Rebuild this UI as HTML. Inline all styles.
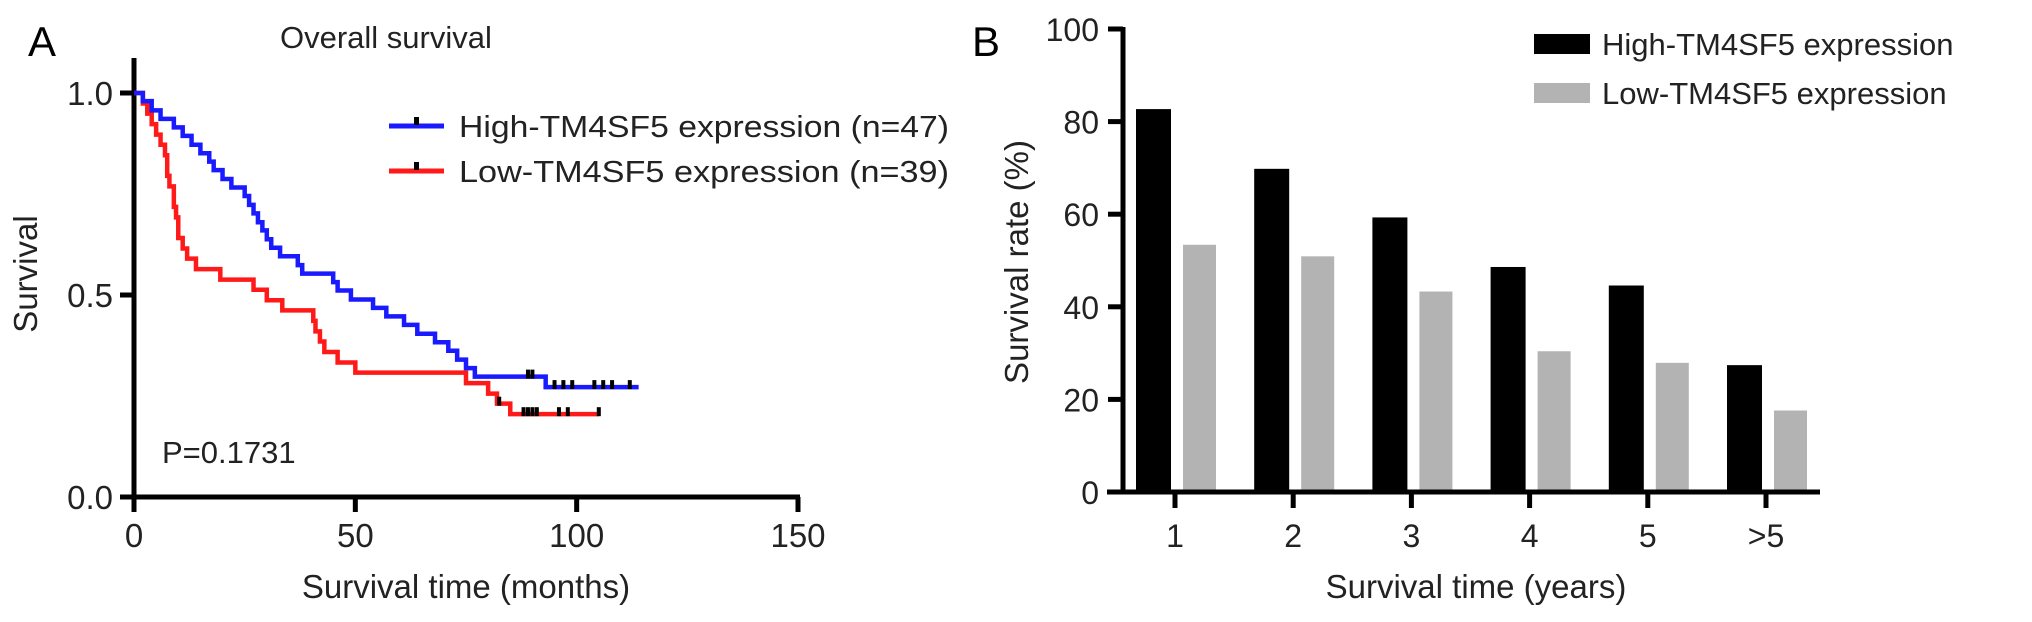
<!DOCTYPE html>
<html><head><meta charset="utf-8"><style>
html,body{margin:0;padding:0;background:#fff;}
svg{display:block;font-family:"Liberation Sans",Arial,sans-serif;}
</style></head><body>
<svg id="fig" width="2032" height="622" viewBox="0 0 2032 622" xmlns="http://www.w3.org/2000/svg">
<g id="panelA"></g>
<g id="panelB"></g>
</svg>
<script>
// Panel A data
const highTimes = [0,2,4,6,9,11,13,15,17,18,20,22,25,26,27,28,29,30,31,33,37,38,45,46,49,54,57,61,64,68,71,73,75,77,93,114];
const highSurv  = [1,0.98,0.957,0.936,0.915,0.894,0.872,0.851,0.83,0.809,0.787,0.766,0.745,0.723,0.702,0.68,0.66,0.638,0.617,0.596,0.574,0.553,0.532,0.511,0.489,0.468,0.447,0.426,0.404,0.383,0.362,0.34,0.319,0.298,0.272,0.272];
const highCensor = [89,90,95,97,99,104,106,108,112];
const lowTimes = [0,2,3,4,5,6,7,7.5,8,9,9.5,10,11,12,14,19.5,27,30,33.5,40.5,41,42,43,46,50,75,80,82,85,105];
const lowSurv  = [1,0.974,0.949,0.923,0.897,0.872,0.846,0.795,0.769,0.718,0.692,0.641,0.615,0.59,0.564,0.538,0.513,0.487,0.462,0.436,0.41,0.385,0.359,0.333,0.308,0.282,0.256,0.231,0.205,0.205];
const lowCensor = [82.5,88,89,90,91,96,98,105];
const xTicksA = [0,50,100,150];
const yTicksA = [0.0,0.5,1.0];
// Panel B data
const categories = ["1","2","3","4","5",">5"];
const highVals = [82.7,69.8,59.3,48.6,44.6,27.4];
const lowVals  = [53.4,50.9,43.3,30.4,27.9,17.6];
const yTicksB = [0,20,40,60,80,100];

const NS="http://www.w3.org/2000/svg";
function mk(parent,tag,attrs,text){const e=document.createElementNS(NS,tag);for(const k in attrs)e.setAttribute(k,attrs[k]);if(text!==undefined)e.textContent=text;parent.appendChild(e);return e;}

// ---- Panel A ----
const A=document.getElementById('panelA');
const ax=m=>134+m*(798-134)/150;
const ay=s=>497-s*(497-93);
let t;
t=mk(A,'text',{x:28,y:56,'font-size':42});t.textContent='A';

t=mk(A,'text',{x:280,y:48,'font-size':31,fill:'#222'},'Overall survival');

let l=mk(A,'line',{x1:134,y1:58,x2:134,y2:499,stroke:'#000','stroke-width':5});

l=mk(A,'line',{x1:120,y1:497,x2:800,y2:497,stroke:'#000','stroke-width':5});

yTicksA.forEach(v=>{
  const tk=mk(A,'line',{x1:120,y1:ay(v),x2:134,y2:ay(v),stroke:'#000','stroke-width':5});
  
  const tl=mk(A,'text',{x:113,y:ay(v)+12,'font-size':33,'text-anchor':'end',fill:'#222'},v.toFixed(1));
  
});
xTicksA.forEach(v=>{
  const tk=mk(A,'line',{x1:ax(v),y1:497,x2:ax(v),y2:512,stroke:'#000','stroke-width':5});
  
  const tl=mk(A,'text',{x:ax(v),y:547,'font-size':33,'text-anchor':'middle',fill:'#222'},String(v));
  
});
t=mk(A,'text',{x:466,y:598,'font-size':33,'text-anchor':'middle',fill:'#222'},'Survival time (months)');

t=mk(A,'text',{x:0,y:0,'font-size':33,'text-anchor':'middle',fill:'#222',transform:'translate(37,274) rotate(-90)'},'Survival');

t=mk(A,'text',{x:162,y:463,'font-size':31,fill:'#222'},'P=0.1731');


function stepPath(ts,ss){let d=`M${ax(ts[0])},${ay(ss[0])}`;for(let i=1;i<ts.length;i++){d+=` H${ax(ts[i])} V${ay(ss[i])}`;}return d;}
function survAt(ts,ss,m){let s=ss[0];for(let i=0;i<ts.length;i++){if(ts[i]<=m)s=ss[i];}return s;}
let p=mk(A,'path',{d:stepPath(lowTimes,lowSurv),fill:'none',stroke:'#ff1a1a','stroke-width':4.5});

p=mk(A,'path',{d:stepPath(highTimes,highSurv),fill:'none',stroke:'#1a1aff','stroke-width':4.5});

highCensor.forEach(m=>{const y=ay(survAt(highTimes,highSurv,m));
  const c=mk(A,'rect',{x:ax(m)-2,y:y-7,width:4,height:9,fill:'#000'});
  });
lowCensor.forEach(m=>{const y=ay(survAt(lowTimes,lowSurv,m));
  const c=mk(A,'rect',{x:ax(m)-2,y:y-7,width:4,height:9,fill:'#000'});
  });
// legend A
const legA=[{y:126,c:'#1a1aff',t:'High-TM4SF5 expression  (n=47)',n:'legend-high'},{y:171,c:'#ff1a1a',t:'Low-TM4SF5 expression  (n=39)',n:'legend-low'}];
legA.forEach(e=>{
  const g=mk(A,'g',{});
  mk(g,'line',{x1:389,y1:e.y,x2:444,y2:e.y,stroke:e.c,'stroke-width':5});
  mk(g,'rect',{x:414,y:e.y-9,width:5,height:8,fill:'#000'});
  mk(g,'text',{x:459,y:e.y+11,'font-size':31,fill:'#222',textLength:490,lengthAdjust:'spacingAndGlyphs'},e.t);
});

// ---- Panel B ----
const B=document.getElementById('panelB');
const by=v=>492-v*(492-29)/100;
const bc=i=>1175+i*118.2;
t=mk(B,'text',{x:972,y:56,'font-size':42},'B');

highVals.forEach((v,i)=>{const r=mk(B,'rect',{x:bc(i)-39,y:by(v),width:35,height:by(0)-by(v),fill:'#000'});
  });
lowVals.forEach((v,i)=>{const r=mk(B,'rect',{x:bc(i)+8,y:by(v),width:33,height:by(0)-by(v),fill:'#b3b3b3'});
  });
l=mk(B,'line',{x1:1123,y1:27,x2:1123,y2:494,stroke:'#000','stroke-width':5});

l=mk(B,'line',{x1:1107,y1:492,x2:1820,y2:492,stroke:'#000','stroke-width':5});

yTicksB.forEach(v=>{
  const tk=mk(B,'line',{x1:1108,y1:by(v),x2:1123,y2:by(v),stroke:'#000','stroke-width':5});
  
  const tl=mk(B,'text',{x:1099,y:by(v)+12,'font-size':32,'text-anchor':'end',fill:'#222'},String(v));
  
});
categories.forEach((c,i)=>{
  const tk=mk(B,'line',{x1:bc(i),y1:492,x2:bc(i),y2:508,stroke:'#000','stroke-width':5});
  
  const tl=mk(B,'text',{x:bc(i),y:547,'font-size':32,'text-anchor':'middle',fill:'#222'},c);
  
});
t=mk(B,'text',{x:1476,y:598,'font-size':33,'text-anchor':'middle',fill:'#222'},'Survival time (years)');

t=mk(B,'text',{x:0,y:0,'font-size':33,'text-anchor':'middle',fill:'#222',transform:'translate(1028,262) rotate(-90)'},'Survival rate (%)');

const legB=[{y:34,c:'#000',t:'High-TM4SF5 expression',n:'legend-high'},{y:83,c:'#b3b3b3',t:'Low-TM4SF5 expression',n:'legend-low'}];
legB.forEach(e=>{
  const g=mk(B,'g',{});
  mk(g,'rect',{x:1534,y:e.y,width:56,height:20,fill:e.c});
  mk(g,'text',{x:1602,y:e.y+21,'font-size':31,fill:'#222'},e.t);
});
</script>
</body></html>
